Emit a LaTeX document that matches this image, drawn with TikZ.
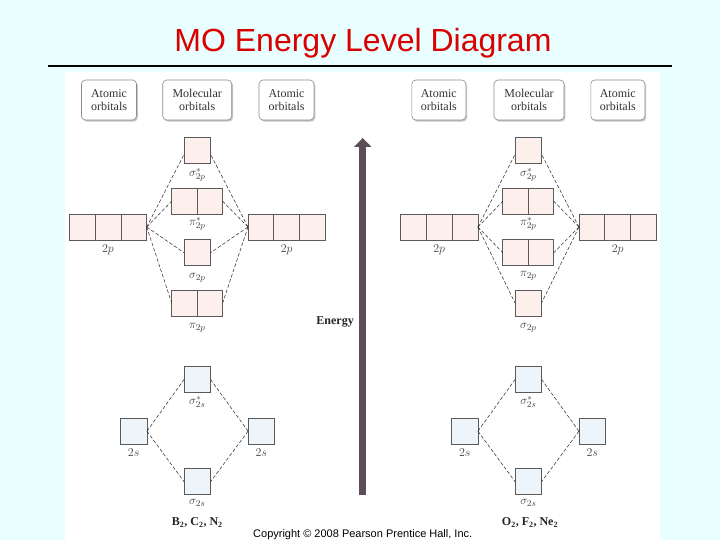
\documentclass[tikz,border=0pt]{standalone}
\usepackage{fontspec}
\setmainfont{Liberation Serif}
\newfontfamily\arialf{Liberation Sans}
\usetikzlibrary{calc,arrows.meta,shadows}
\definecolor{bgc}{HTML}{E8FEFF}
\definecolor{titlered}{HTML}{D80000}
\definecolor{pinkfill}{HTML}{FCEFEC}
\definecolor{bluefill}{HTML}{EDF5FB}
\definecolor{boxgray}{HTML}{5A5A5A}
\definecolor{arrowc}{HTML}{5C4E59}
\definecolor{labgray}{HTML}{444444}
\tikzset{
  orb/.style={draw=boxgray, line width=0.7pt, minimum height=26pt, minimum width=26.5pt, inner sep=0pt, outer sep=0pt},
  porb/.style={orb, fill=pinkfill},
  sorb/.style={orb, fill=bluefill},
  twocell/.style={minimum width=51pt, path picture={
    \draw[draw=boxgray, line width=0.7pt] (path picture bounding box.north) -- (path picture bounding box.south);}},
  threecell/.style={minimum width=77.4pt, path picture={
    \draw[draw=boxgray, line width=0.7pt]
      ($(path picture bounding box.north west)!1/3!(path picture bounding box.north east)$) --
      ($(path picture bounding box.south west)!1/3!(path picture bounding box.south east)$)
      ($(path picture bounding box.north west)!2/3!(path picture bounding box.north east)$) --
      ($(path picture bounding box.south west)!2/3!(path picture bounding box.south east)$);}},
  dl/.style={draw=black!80, line width=0.55pt, dash pattern=on 3.5pt off 2pt},
  lab/.style={text=labgray, font=\fontsize{13}{15}\selectfont, inner sep=0pt},
  head/.style={draw=black!45, line width=0.6pt, fill=white, rounded corners=4pt, minimum height=40pt, align=center,
    font=\fontsize{12}{13}\selectfont, text=black!80, inner sep=1pt,
    drop shadow={shadow xshift=1.3pt, shadow yshift=-1.6pt, fill=black!45}},
  mol/.style={font=\fontsize{12}{14}\selectfont\bfseries, text=black!85, inner sep=0pt}
}
\begin{document}
\begin{tikzpicture}[x=1pt, y=-1pt]
\useasboundingbox (0,0) rectangle (720,540);
\fill[bgc] (0,0) rectangle (720,540);
\fill[white] (65,72) rectangle (660,540);
\node[text=titlered, font=\arialf\fontsize{32}{36}\selectfont, anchor=base] (title) at (363,51.5) {MO Energy Level Diagram};
\draw[line width=2.5pt] (48,66) -- (672,66);

% headers left
\node[head, minimum width=55pt] (h1) at (109,100) {Atomic\\orbitals};
\node[head, minimum width=69pt] (h2) at (197.2,100) {Molecular\\orbitals};
\node[head, minimum width=55pt] (h3) at (286.5,100) {Atomic\\orbitals};
% headers right
\node[head, minimum width=54pt] (h4) at (438.8,100) {Atomic\\orbitals};
\node[head, minimum width=70pt] (h5) at (529,100) {Molecular\\orbitals};
\node[head, minimum width=54pt] (h6) at (617.8,100) {Atomic\\orbitals};

% energy arrow
\coordinate (ebot) at (362.7,495);
\coordinate (etop) at (362.7,138);
\draw[arrowc, line width=6.5pt, -{Triangle[width=17pt,length=9pt]}] (ebot) -- (etop);
\node[font=\fontsize{12}{14}\selectfont\bfseries, text=black!85, anchor=east, inner sep=0pt] (energy) at (354,322) {Energy};

% ===== left diagram (B2, C2, N2)
\node[porb] (Lsx) at (197.3,150.3) {};
\node[porb, twocell] (Lpx) at (197.2,201.3) {};
\node[porb, threecell] (LL2p) at (108,227) {};
\node[porb, threecell] (LR2p) at (286.7,227) {};
\node[porb] (Ls) at (197.3,252.7) {};
\node[porb, twocell] (Lp) at (197.2,303) {};
\node[sorb] (Lssx) at (197.3,379.5) {};
\node[sorb] (LL2s) at (133.7,431.2) {};
\node[sorb] (LR2s) at (261.3,431.2) {};
\node[sorb] (Lss) at (197.3,481.7) {};

\node[lab] (lLsx) at (197.3,175) {$\sigma^*_{2p}$};
\node[lab] (lLpx) at (197.3,224) {$\pi^*_{2p}$};
\node[lab] (lLL2p) at (108,250) {$2p$};
\node[lab] (lLR2p) at (286.7,250) {$2p$};
\node[lab] (lLs) at (197.3,278) {$\sigma_{2p}$};
\node[lab] (lLp) at (197.3,328) {$\pi_{2p}$};
\node[lab] (lLssx) at (197.3,402) {$\sigma^*_{2s}$};
\node[lab] (lLL2s) at (133.7,453) {$2s$};
\node[lab] (lLR2s) at (261.3,453) {$2s$};
\node[lab] (lLss) at (197.3,503) {$\sigma_{2s}$};
\node[mol] (mL) at (197.3,522.5) {B\textsubscript{2}, C\textsubscript{2}, N\textsubscript{2}};

\draw[dl] (LL2p.east) -- ($(Lsx.west)+(0,4)$);
\draw[dl] (LL2p.east) -- (Lpx.west);
\draw[dl] (LL2p.east) -- (Ls.west);
\draw[dl] (LL2p.east) -- (Lp.west);
\draw[dl] (LR2p.west) -- ($(Lsx.east)+(0,4)$);
\draw[dl] (LR2p.west) -- (Lpx.east);
\draw[dl] (LR2p.west) -- (Ls.east);
\draw[dl] (LR2p.west) -- (Lp.east);
\draw[dl] (LL2s.east) -- (Lssx.west);
\draw[dl] (LL2s.east) -- (Lss.west);
\draw[dl] (LR2s.west) -- (Lssx.east);
\draw[dl] (LR2s.west) -- (Lss.east);

% ===== right diagram (O2, F2, Ne2)
\node[porb] (Rsx) at (528.3,150.3) {};
\node[porb, twocell] (Rpx) at (528.3,201.3) {};
\node[porb, threecell] (RL2p) at (439.2,227) {};
\node[porb, threecell] (RR2p) at (617.7,227) {};
\node[porb, twocell] (Rp) at (528.3,252.7) {};
\node[porb] (Rs) at (528.3,303) {};
\node[sorb] (Rssx) at (528.3,379.5) {};
\node[sorb] (RL2s) at (464.7,431.2) {};
\node[sorb] (RR2s) at (592.2,431.2) {};
\node[sorb] (Rss) at (528.3,481.7) {};

\node[lab] (lRsx) at (528.3,175) {$\sigma^*_{2p}$};
\node[lab] (lRpx) at (528.3,224) {$\pi^*_{2p}$};
\node[lab] (lRL2p) at (439.2,250) {$2p$};
\node[lab] (lRR2p) at (617.7,250) {$2p$};
\node[lab] (lRp) at (528.3,276) {$\pi_{2p}$};
\node[lab] (lRs) at (528.3,328) {$\sigma_{2p}$};
\node[lab] (lRssx) at (528.3,402) {$\sigma^*_{2s}$};
\node[lab] (lRL2s) at (464.7,453) {$2s$};
\node[lab] (lRR2s) at (592.2,453) {$2s$};
\node[lab] (lRss) at (528.3,503) {$\sigma_{2s}$};
\node[mol] (mR) at (530,522.5) {O\textsubscript{2}, F\textsubscript{2}, Ne\textsubscript{2}};

\draw[dl] (RL2p.east) -- ($(Rsx.west)+(0,4)$);
\draw[dl] (RL2p.east) -- (Rpx.west);
\draw[dl] (RL2p.east) -- (Rp.west);
\draw[dl] (RL2p.east) -- (Rs.west);
\draw[dl] (RR2p.west) -- ($(Rsx.east)+(0,4)$);
\draw[dl] (RR2p.west) -- (Rpx.east);
\draw[dl] (RR2p.west) -- (Rp.east);
\draw[dl] (RR2p.west) -- (Rs.east);
\draw[dl] (RL2s.east) -- (Rssx.west);
\draw[dl] (RL2s.east) -- (Rss.west);
\draw[dl] (RR2s.west) -- (Rssx.east);
\draw[dl] (RR2s.west) -- (Rss.east);

% copyright
\node[font=\arialf\fontsize{11}{13}\selectfont, anchor=base west, inner sep=0pt] (copy) at (253,537) {Copyright © 2008 Pearson Prentice Hall, Inc.};
\end{tikzpicture}
\end{document}
